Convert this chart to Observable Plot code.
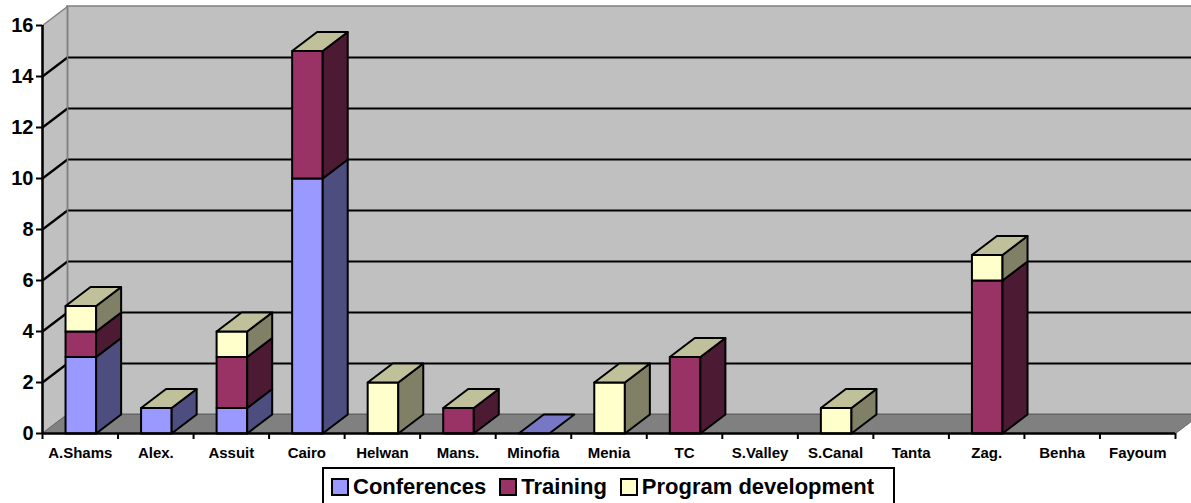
<!DOCTYPE html>
<html>
<head>
<meta charset="utf-8">
<script src="https://cdn.jsdelivr.net/npm/d3@7"></script>
<script src="https://cdn.jsdelivr.net/npm/@observablehq/plot@0.6"></script>
<style>
  html, body { margin: 0; padding: 0; background: #fff; overflow: hidden; }
  body { width: 1191px; height: 503px; position: relative; font-family: "Liberation Sans", Arial, sans-serif; }
  #chart svg { display: block; overflow: hidden; }
  #legend { position: absolute; left: 322px; top: 467px; width: 573px; height: 40px; border: 2px solid #000; box-sizing: border-box;
    display: flex; align-items: center; padding-left: 7px; font-weight: bold; font-size: 22px; background: #fff; }
  #legend .item { display: flex; align-items: center; margin-right: 13px; white-space: nowrap; }
  #legend .sw { width: 14px; height: 14px; border: 2px solid #000; margin-right: 4px; }
</style>
</head>
<body>
<div id="chart"></div>
<div id="legend"></div>
<script>
// ---- data ----
const categories = ["A.Shams", "Alex.", "Assuit", "Cairo", "Helwan", "Mans.", "Minofia", "Menia", "TC", "S.Valley", "S.Canal", "Tanta", "Zag.", "Benha", "Fayoum"];
const seriesNames = ["Conferences", "Training", "Program development"];
const conferences = [3, 1, 1, 10, 0, 0, 0, 0, 0, null, 0, null, 0, null, null];
const training    = [1, 0, 2, 5, 0, 1, null, 0, 3, null, 0, null, 6, null, null];
const programDev  = [1, 0, 1, 0, 2, 0, null, 2, 0, null, 1, null, 1, null, null];
const yTicks = [0, 2, 4, 6, 8, 10, 12, 14, 16];

// ---- styles ----
const frontColors = ["#9999FF", "#993366", "#FFFFCC"];
const sideColors  = ["#4D4D80", "#4D1A33", "#808066"];
const topColors   = ["#7777C6", "#772850", "#C0C09A"];
const series = [conferences, training, programDev];

const W = 1191, H = 465;
const mL = 42, mR = 16, mT = 25, mB = 32;
const yMax = 16;
const pxPerX = (W - mL - mR) / categories.length;
const pxPerY = (H - mT - mB) / yMax;
const d = 25 / pxPerX;  // depth in x units
const e = 19 / pxPerY;  // depth in y units
const bx0 = 0.305, bx1 = 0.71;

// build polygons from data
const polys = [];
let pid = 0;
function addPoly(pts, fill) {
  const id = pid++;
  for (const [x, y] of pts) polys.push({id, x, y, fill});
}
categories.forEach((c, i) => {
  let cum = 0;
  let topS = -1, topY = 0;
  const x0 = i + bx0, x1 = i + bx1;
  series.forEach((vals, s) => {
    const v = vals[i];
    if (v == null) return;
    const y0 = cum, y1 = cum + v;
    if (v > 0) {
      addPoly([[x0, y0], [x1, y0], [x1, y1], [x0, y1]], frontColors[s]);
      addPoly([[x1, y0], [x1 + d, y0 + e], [x1 + d, y1 + e], [x1, y1]], sideColors[s]);
    }
    cum = y1; topS = s; topY = y1;
  });
  if (topS >= 0) {
    addPoly([[x0, topY], [x1, topY], [x1 + d, topY + e], [x0 + d, topY + e]], topColors[topS]);
  }
});

const n = categories.length;
const leftWall = [[0, 0], [0, yMax], [d, yMax + e], [d, e]].map(([x, y]) => ({x, y}));
const floor = [[0, 0], [n, 0], [n + d, e], [d, e]].map(([x, y]) => ({x, y}));
const gridK = yTicks.filter(k => k > 0 && k < yMax);

const plot = Plot.plot({
  width: W, height: H,
  marginLeft: mL, marginRight: mR, marginTop: mT, marginBottom: mB,
  style: {fontFamily: "'Liberation Sans', Arial, sans-serif", color: "#000", background: "#fff", overflow: "hidden"},
  x: {domain: [0, n], label: null},
  y: {domain: [0, yMax], label: null},
  color: {type: "identity"},
  marks: [
    // back wall
    Plot.rect([0], {x1: d, x2: n + d + 1, y1: e, y2: yMax + e, fill: "#C0C0C0", stroke: "#808080", strokeWidth: 1.5}),
    // left wall
    Plot.line(leftWall, {x: "x", y: "y", curve: "linear-closed", fill: "#C0C0C0", stroke: "#808080", strokeWidth: 1.5}),
    // floor
    Plot.line(floor, {x: "x", y: "y", curve: "linear-closed", fill: "#808080", stroke: "#666666", strokeWidth: 1}),
    // gridlines on back wall
    Plot.ruleY(gridK, {y: k => k + e, x1: d, x2: n + d + 1, stroke: "#000", strokeWidth: 2.2}),
    // gridlines on side wall
    Plot.link(gridK, {x1: 0, y1: k => k, x2: d, y2: k => k + e, stroke: "#000", strokeWidth: 2.2}),
    // wall corner line
    Plot.link([0], {x1: d, y1: e, x2: d, y2: yMax + e, stroke: "#808080", strokeWidth: 1.5}),
    // bars
    Plot.line(polys, {x: "x", y: "y", z: "id", fill: "fill", curve: "linear-closed", stroke: "#000", strokeWidth: 2, strokeLinejoin: "round"}),
    // axes
    Plot.ruleX([0], {y1: 0, y2: yMax, stroke: "#000", strokeWidth: 2.5}),
    Plot.ruleY([0], {x1: 0, x2: n, stroke: "#000", strokeWidth: 2.5}),
    Plot.axisY({ticks: yTicks, label: null, tickSize: 6, tickPadding: 3, fontSize: 20, fontWeight: "bold", strokeWidth: 2, tickFormat: d => String(d)}),
    Plot.axisX({ticks: d3.range(0, n + 1), label: null, tickSize: 6, tickFormat: () => "", strokeWidth: 2}),
    Plot.axisX({ticks: categories.map((c, i) => i + 0.5), label: null, tickSize: 0, tickPadding: 14, fontSize: 15, fontWeight: "bold", tickFormat: v => categories[Math.floor(v)]})
  ]
});
document.getElementById("chart").appendChild(plot);

// legend
const legend = document.getElementById("legend");
seriesNames.forEach((name, s) => {
  const item = document.createElement("div");
  item.className = "item";
  const sw = document.createElement("div");
  sw.className = "sw";
  sw.style.background = frontColors[s];
  const t = document.createElement("span");
  t.textContent = name;
  item.appendChild(sw); item.appendChild(t);
  legend.appendChild(item);
});
</script>
</body>
</html>
